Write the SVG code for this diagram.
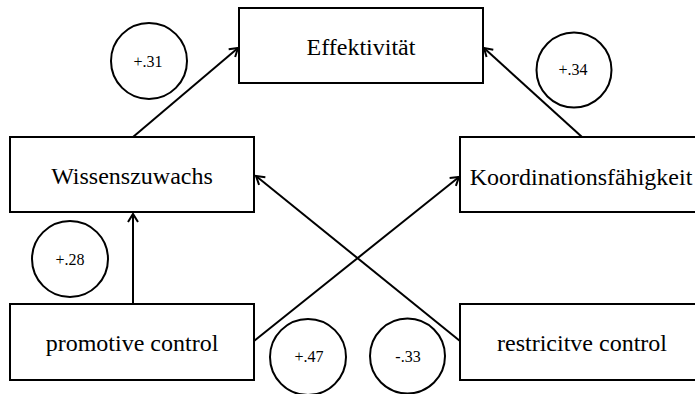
<svg xmlns="http://www.w3.org/2000/svg" width="695" height="394" viewBox="0 0 695 394">
<style>
.box{fill:#fff;stroke:#000;stroke-width:2}
.circ{fill:#fff;stroke:#000;stroke-width:2}
text{font-family:'Liberation Serif', 'DejaVu Serif', serif;fill:#000;text-anchor:middle}
.lbl{font-size:24px}
.num{font-size:16px}
.edge{stroke:#000;stroke-width:2;fill:none;marker-end:url(#arr)}
</style>
<defs>
<marker id="arr" markerUnits="userSpaceOnUse" markerWidth="12" markerHeight="14" refX="9" refY="6" orient="auto" viewBox="0 0 12 12">
<path d="M1,1 L9,6 L1,11" fill="none" stroke="#000" stroke-width="2"/>
</marker>
</defs>
<rect width="695" height="394" fill="#fff"/>
<g id="connectors">
<line class="edge" x1="133" y1="137" x2="238" y2="48"/>
<line class="edge" x1="582" y1="137" x2="484" y2="48"/>
<line class="edge" x1="133" y1="304" x2="133" y2="214"/>
<line class="edge" x1="254" y1="341" x2="459" y2="177"/>
<line class="edge" x1="460" y1="341" x2="256" y2="176"/>
</g>
<g id="effektivitaet">
<rect class="box" x="239" y="8" width="244" height="75"/>
<text class="lbl" x="361" y="55" font-family="Liberation Serif">Effektivität</text>
</g>
<g id="wissenszuwachs">
<rect class="box" x="10" y="137" width="244" height="75"/>
<text class="lbl" x="132" y="184" font-family="Liberation Serif">Wissenszuwachs</text>
</g>
<g id="koordination">
<rect class="box" x="460" y="137" width="244" height="75"/>
<text class="lbl" x="581" y="185" font-family="Liberation Serif">Koordinationsfähigkeit</text>
</g>
<g id="promotive">
<rect class="box" x="10" y="304" width="244" height="76"/>
<text class="lbl" x="132" y="351" font-family="Liberation Serif">promotive control</text>
</g>
<g id="restrictive">
<rect class="box" x="460" y="304" width="244" height="76"/>
<text class="lbl" x="582" y="351" font-family="Liberation Serif">restricitve control</text>
</g>
<g id="c31">
<circle class="circ" cx="149" cy="61" r="38"/>
<text class="num" x="148" y="67" font-family="Liberation Serif">+.31</text>
</g>
<g id="c34">
<circle class="circ" cx="574" cy="70" r="37.5"/>
<text class="num" x="573" y="75" font-family="Liberation Serif">+.34</text>
</g>
<g id="c28">
<circle class="circ" cx="70" cy="259" r="38"/>
<text class="num" x="70" y="265" font-family="Liberation Serif">+.28</text>
</g>
<g id="c47">
<circle class="circ" cx="308" cy="357" r="38"/>
<text class="num" x="309" y="362" font-family="Liberation Serif">+.47</text>
</g>
<g id="c33">
<circle class="circ" cx="407.5" cy="356" r="37.5"/>
<text class="num" x="408" y="362" font-family="Liberation Serif">-.33</text>
</g>
</svg>
